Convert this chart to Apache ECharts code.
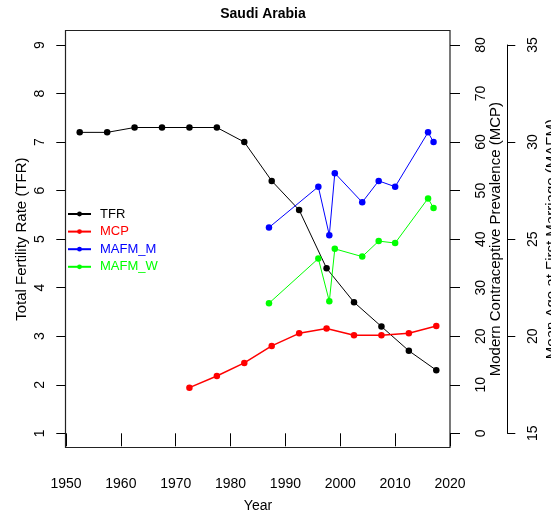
<!DOCTYPE html>
<html lang="en">
  <head>
    <meta charset="utf-8" />
    <title>Saudi Arabia</title>
    <script src="https://cdn.jsdelivr.net/npm/echarts@6/dist/echarts.min.js"></script>
    <style>
      html, body { margin: 0; padding: 0; background: #fff; }
    </style>
  </head>
  <body>
    <div id="main" style="width: 551px; height: 519px;"></div>
    <script type="text/javascript">
      // data
      const tfrYears = [1952.5, 1957.5, 1962.5, 1967.5, 1972.5, 1977.5, 1982.5, 1987.5, 1992.5, 1997.5, 2002.5, 2007.5, 2012.5, 2017.5]
      const tfr = [7.2, 7.2, 7.3, 7.3, 7.3, 7.3, 7.0, 6.2, 5.6, 4.4, 3.7, 3.2, 2.7, 2.3]

      const mcpYears = [1972.5, 1977.5, 1982.5, 1987.5, 1992.5, 1997.5, 2002.5, 2007.5, 2012.5, 2017.5]
      const mcp = [9.4, 11.8, 14.5, 18.0, 20.6, 21.6, 20.2, 20.2, 20.6, 22.1]

      const mafmYears = [1987, 1996, 1998, 1999, 2004, 2007, 2010, 2016, 2017]
      const mafmM = [25.6, 27.7, 25.2, 28.4, 26.9, 28.0, 27.7, 30.5, 30.0]
      const mafmW = [21.7, 24.0, 21.8, 24.5, 24.1, 24.9, 24.8, 27.1, 26.6]

      const font = "'Liberation Sans', Arial, sans-serif"

      const zip = (xs, ys) => xs.map((x, i) => [x, ys[i]])

      const myChart = echarts.init(document.getElementById('main'), null, {renderer: 'canvas'})

      const lineSeries = (name, color, yIdx, xs, ys, width) => ({
        name: name,
        type: 'line',
        yAxisIndex: yIdx,
        data: zip(xs, ys),
        symbol: 'circle',
        symbolSize: 6.5,
        showSymbol: true,
        clip: false,
        itemStyle: {color: color},
        lineStyle: {color: color, width: width}
      })

      const option = {
        animation: false,
        title: {
          text: 'Saudi Arabia',
          left: 258,
          top: 2,
          textAlign: 'center',
          textStyle: {fontFamily: font, fontWeight: 'bold', fontSize: 14, color: '#000'}
        },
        legend: {
          orient: 'vertical',
          left: 67,
          top: 207,
          padding: 0,
          itemWidth: 23,
          itemHeight: 6,
          itemGap: 3.6,
          textStyle: {fontFamily: font, fontSize: 13, lineHeight: 14, padding: [0, 0, 0, 4]},
          data: [
            {name: 'TFR', textStyle: {color: '#000000'}},
            {name: 'MCP', textStyle: {color: '#FF0000'}},
            {name: 'MAFM_M', textStyle: {color: '#0000FF'}},
            {name: 'MAFM_W', textStyle: {color: '#00FF00'}}
          ]
        },
        grid: {left: 66, right: 101, top: 45, bottom: 85.7, outerBoundsMode: 'none', containLabel: false},
        graphic: [{
          type: 'rect',
          shape: {x: 65.5, y: 30.5, width: 384.5, height: 417},
          style: {fill: 'none', stroke: '#222', lineWidth: 1.2},
          silent: true
        }],
        xAxis: {
          type: 'value',
          min: 1950,
          max: 2020,
          interval: 10,
          offset: 14,
          name: 'Year',
          nameLocation: 'middle',
          nameGap: 52,
          nameMoveOverlap: false,
          nameTextStyle: {fontFamily: font, fontSize: 14, color: '#000'},
          axisLine: {show: false},
          axisTick: {show: true, length: 13, lineStyle: {color: '#000'}},
          axisLabel: {fontFamily: font, fontSize: 14, color: '#000', margin: 30, formatter: v => String(v)},
          splitLine: {show: false}
        },
        yAxis: [
          {
            type: 'value',
            position: 'left',
            min: 1,
            max: 9,
            interval: 1,
            offset: 0.7,
            name: 'Total Fertility Rate (TFR)',
            nameLocation: 'middle',
            nameGap: 36,
            nameMoveOverlap: false,
            nameTextStyle: {fontFamily: font, fontSize: 15, color: '#000'},
            axisLine: {show: false},
            axisTick: {show: true, length: 9, lineStyle: {color: '#000'}},
            axisLabel: {rotate: 90, fontFamily: font, fontSize: 14, color: '#000', margin: 18},
            splitLine: {show: false}
          },
          {
            type: 'value',
            position: 'right',
            min: 0,
            max: 80,
            interval: 10,
            offset: 0,
            name: 'Modern Contraceptive Prevalence (MCP)',
            nameLocation: 'middle',
            nameGap: 38,
            nameMoveOverlap: false,
            nameTextStyle: {fontFamily: font, fontSize: 15, color: '#000'},
            axisLine: {show: false},
            axisTick: {show: true, length: 10, lineStyle: {color: '#000'}},
            axisLabel: {rotate: 90, fontFamily: font, fontSize: 14, color: '#000', margin: 24},
            splitLine: {show: false}
          },
          {
            type: 'value',
            position: 'right',
            min: 15,
            max: 35,
            interval: 5,
            offset: 57.3,
            name: 'Mean Age at First Marriage (MAFM)',
            nameLocation: 'middle',
            nameGap: 37,
            nameMoveOverlap: false,
            nameTextStyle: {fontFamily: font, fontSize: 15, color: '#000'},
            axisLine: {show: true, lineStyle: {color: '#000', width: 1}},
            axisTick: {show: true, length: 8, lineStyle: {color: '#000'}},
            axisLabel: {rotate: 90, fontFamily: font, fontSize: 14, color: '#000', margin: 19},
            splitLine: {show: false}
          }
        ],
        series: [
          lineSeries('TFR', '#000000', 0, tfrYears, tfr, 1),
          lineSeries('MCP', '#FF0000', 1, mcpYears, mcp, 1.5),
          lineSeries('MAFM_M', '#0000FF', 2, mafmYears, mafmM, 1),
          lineSeries('MAFM_W', '#00FF00', 2, mafmYears, mafmW, 1)
        ]
      }
      myChart.setOption(option)
    </script>
  </body>
</html>
